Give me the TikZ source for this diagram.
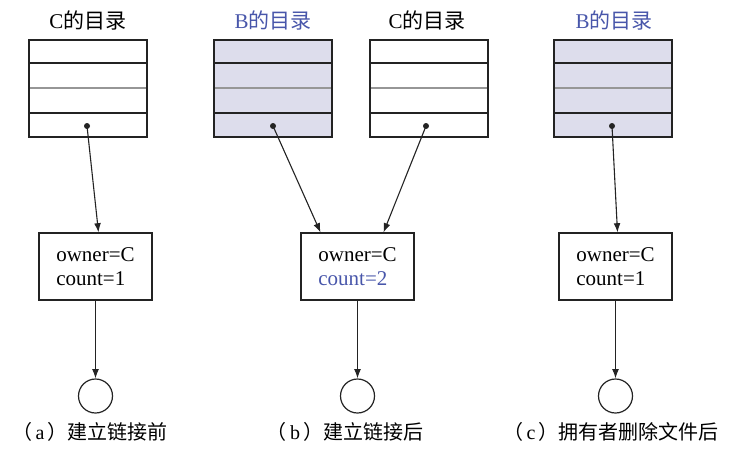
\documentclass[tikz,border=0pt]{standalone}
\usepackage{fontspec}
\setmainfont{Liberation Serif}
\newfontfamily\cjk{Noto Sans CJK SC}
\usetikzlibrary{arrows.meta,calc}
\definecolor{dirfill}{RGB}{221,221,236}
\definecolor{hlblue}{RGB}{72,86,170}
\definecolor{linec}{RGB}{35,35,35}
\definecolor{midline}{RGB}{150,150,150}
\begin{document}
\begin{tikzpicture}[x=0.5pt,y=-0.5pt,
  font=\fontsize{10.5}{12}\selectfont,
  dirframe/.style={draw=linec, line width=0.6pt},
  title/.style={font=\fontsize{10.5}{12}\selectfont, inner sep=0},
  dot/.style={circle, fill=linec, inner sep=0, minimum size=3pt},
  cntbox/.style={draw=linec, line width=0.6pt, minimum width=56.5pt, minimum height=33.5pt, align=left, inner sep=0},
  obj/.style={circle, draw=linec, line width=0.6pt, minimum size=17pt, inner sep=0},
  arr/.style={draw=linec, line width=0.55pt, -{Latex[length=4.6pt,width=3.4pt]}},
  caption/.style={font=\fontsize{10}{12}\selectfont, inner sep=0}]
\useasboundingbox (0,0) rectangle (742,455);

% directory boxes
\newcommand{\dirtable}[2]{%
  \fill[#2] (#1,40) rectangle ++(118,97);
  \draw[linec, line width=0.55pt] (#1,63) -- ++(118,0);
  \draw[midline, line width=0.55pt] (#1,88) -- ++(118,0);
  \draw[linec, line width=0.55pt] (#1,113) -- ++(118,0);
  \draw[dirframe] (#1,40) rectangle ++(118,97);
}
\dirtable{29}{white}
\dirtable{214}{dirfill}
\dirtable{370}{white}
\dirtable{554}{dirfill}

% titles
\node[title] (tA) at (88,20) {C{\cjk 的目录}};
\node[title, text=hlblue] (tB1) at (273,20) {B{\cjk 的目录}};
\node[title] (tC) at (427,20) {C{\cjk 的目录}};
\node[title, text=hlblue] (tB2) at (614,20) {B{\cjk 的目录}};

% dots
\node[dot] (pA) at (87,126) {};
\node[dot] (pB1) at (273,126) {};
\node[dot] (pC) at (426,126) {};
\node[dot] (pB2) at (612,126) {};

% count boxes
\node[cntbox] (cA) at (95.5,266.5) {owner=C\\count=1};
\node[cntbox] (cB) at (357.5,266.5) {owner=C\\{\color{hlblue}count=2}};
\node[cntbox] (cC) at (615.5,266.5) {owner=C\\count=1};

% objects
\node[obj] (oA) at (95.5,396) {};
\node[obj] (oB) at (357.5,396) {};
\node[obj] (oC) at (615.5,396) {};

% arrows
\draw[arr] (pA.center) -- ($(cA.north)+(3,0)$);
\draw[arr] (pB1.center) -- ($(cB.north)+(-37,0)$);
\draw[arr] (pC.center) -- ($(cB.north)+(26,0)$);
\draw[arr] (pB2.center) -- ($(cC.north)+(2,0)$);
\draw[arr] (cA) -- (oA);
\draw[arr] (cB) -- (oB);
\draw[arr] (cC) -- (oC);

% captions
\node[caption] (capA) at (90,432) {{\cjk （}\,a\,{\cjk ）建立链接前}};
\node[caption] (capB) at (345,432) {{\cjk （}\,b\,{\cjk ）建立链接后}};
\node[caption] (capC) at (611,432) {{\cjk （}\,c\,{\cjk ）拥有者删除文件后}};
\end{tikzpicture}
\end{document}
